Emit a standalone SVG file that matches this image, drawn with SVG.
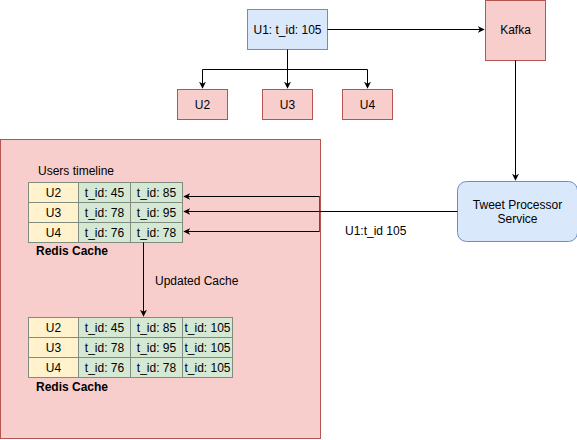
<svg xmlns="http://www.w3.org/2000/svg" width="577" height="440" viewBox="0 0 577 440">
<style>
text{font-family:"Liberation Sans",Arial,sans-serif;font-size:12px;fill:#000}
.red{fill:#f8cecc;stroke:#b85450}
.blue{fill:#dae8fc;stroke:#6c8ebf}
.y{fill:#fff2cc;stroke:#7f8c7f}
.g{fill:#d5e8d4;stroke:#7f8c7f}
.c{stroke:#000;fill:none}
.m{text-anchor:middle}
.b{font-weight:bold}
</style>
<defs>
<marker id="a" viewBox="0 0 10 10" refX="9" refY="5" markerWidth="7" markerHeight="7" orient="auto" markerUnits="userSpaceOnUse"><path d="M0,0 L10,5 L0,10 L3,5 z" fill="#000"/></marker>
</defs>
<g id="cache-area"><rect class="red" x="0.5" y="139.5" width="320" height="299"/></g>
<g id="u1"><rect class="blue" x="247.5" y="9.5" width="80" height="40"/><text class="m" x="287.5" y="33.5">U1: t_id: 105</text></g>
<g id="kafka"><rect class="red" x="485.5" y="0.5" width="60" height="60"/><text class="m" x="515.5" y="34">Kafka</text></g>
<g id="u2"><rect class="red" x="177.5" y="89.5" width="50" height="30"/><text class="m" x="202.5" y="108.5">U2</text></g>
<g id="u3"><rect class="red" x="262.5" y="89.5" width="50" height="30"/><text class="m" x="287.5" y="108.5">U3</text></g>
<g id="u4"><rect class="red" x="342.5" y="89.5" width="50" height="30"/><text class="m" x="367.5" y="108.5">U4</text></g>
<g id="tps"><rect class="blue" x="457.5" y="181.5" width="120" height="60" rx="9"/><text class="m" x="517.5" y="208.5">Tweet Processor</text><text class="m" x="517.5" y="223">Service</text></g>
<g id="table1">
<text x="38" y="174.5">Users timeline</text>
<rect class="y" x="28.5" y="182.5" width="50" height="20"/><rect class="g" x="78.5" y="182.5" width="52" height="20"/><rect class="g" x="130.5" y="182.5" width="52" height="20"/>
<rect class="y" x="28.5" y="202.5" width="50" height="20"/><rect class="g" x="78.5" y="202.5" width="52" height="20"/><rect class="g" x="130.5" y="202.5" width="52" height="20"/>
<rect class="y" x="28.5" y="222.5" width="50" height="20"/><rect class="g" x="78.5" y="222.5" width="52" height="20"/><rect class="g" x="130.5" y="222.5" width="52" height="20"/>
<text class="m" x="53.5" y="196.5">U2</text><text class="m" x="104.5" y="196.5">t_id: 45</text><text class="m" x="156.5" y="196.5">t_id: 85</text>
<text class="m" x="53.5" y="216.5">U3</text><text class="m" x="104.5" y="216.5">t_id: 78</text><text class="m" x="156.5" y="216.5">t_id: 95</text>
<text class="m" x="53.5" y="236.5">U4</text><text class="m" x="104.5" y="236.5">t_id: 76</text><text class="m" x="156.5" y="236.5">t_id: 78</text>
<text class="b" x="36" y="255">Redis Cache</text>
</g>
<g id="table2">
<rect class="y" x="28.5" y="317.5" width="50" height="20"/><rect class="g" x="78.5" y="317.5" width="52" height="20"/><rect class="g" x="130.5" y="317.5" width="52" height="20"/><rect class="g" x="182.5" y="317.5" width="50" height="20"/>
<rect class="y" x="28.5" y="337.5" width="50" height="20"/><rect class="g" x="78.5" y="337.5" width="52" height="20"/><rect class="g" x="130.5" y="337.5" width="52" height="20"/><rect class="g" x="182.5" y="337.5" width="50" height="20"/>
<rect class="y" x="28.5" y="357.5" width="50" height="20"/><rect class="g" x="78.5" y="357.5" width="52" height="20"/><rect class="g" x="130.5" y="357.5" width="52" height="20"/><rect class="g" x="182.5" y="357.5" width="50" height="20"/>
<text class="m" x="53.5" y="331.5">U2</text><text class="m" x="104.5" y="331.5">t_id: 45</text><text class="m" x="156.5" y="331.5">t_id: 85</text><text class="m" x="207.5" y="331.5">t_id: 105</text>
<text class="m" x="53.5" y="351.5">U3</text><text class="m" x="104.5" y="351.5">t_id: 78</text><text class="m" x="156.5" y="351.5">t_id: 95</text><text class="m" x="207.5" y="351.5">t_id: 105</text>
<text class="m" x="53.5" y="371.5">U4</text><text class="m" x="104.5" y="371.5">t_id: 76</text><text class="m" x="156.5" y="371.5">t_id: 78</text><text class="m" x="207.5" y="371.5">t_id: 105</text>
<text class="b" x="36" y="391">Redis Cache</text>
</g>
<g id="connectors">
<path class="c" d="M327.5,29.5 H484" marker-end="url(#a)"/>
<path class="c" d="M287.5,49.5 V69.5 H202.5 V88" marker-end="url(#a)"/>
<path class="c" d="M287.5,69.5 V88" marker-end="url(#a)"/>
<path class="c" d="M287.5,69.5 H367.5 V88" marker-end="url(#a)"/>
<path class="c" d="M515.5,60.5 V180" marker-end="url(#a)"/>
<path class="c" d="M457.5,211.5 H319.5"/>
<path d="M319.5,196.5 V231.5" stroke="#555" fill="none"/>
<path class="c" d="M319.5,196.5 H184" marker-end="url(#a)"/>
<path class="c" d="M319.5,211.5 H184" marker-end="url(#a)"/>
<path class="c" d="M319.5,231.5 H184" marker-end="url(#a)"/>
<path class="c" d="M143.5,242.5 V316" marker-end="url(#a)"/>
<text x="155" y="285">Updated Cache</text>
<text x="345" y="234.5">U1:t_id 105</text>
</g>
</svg>
